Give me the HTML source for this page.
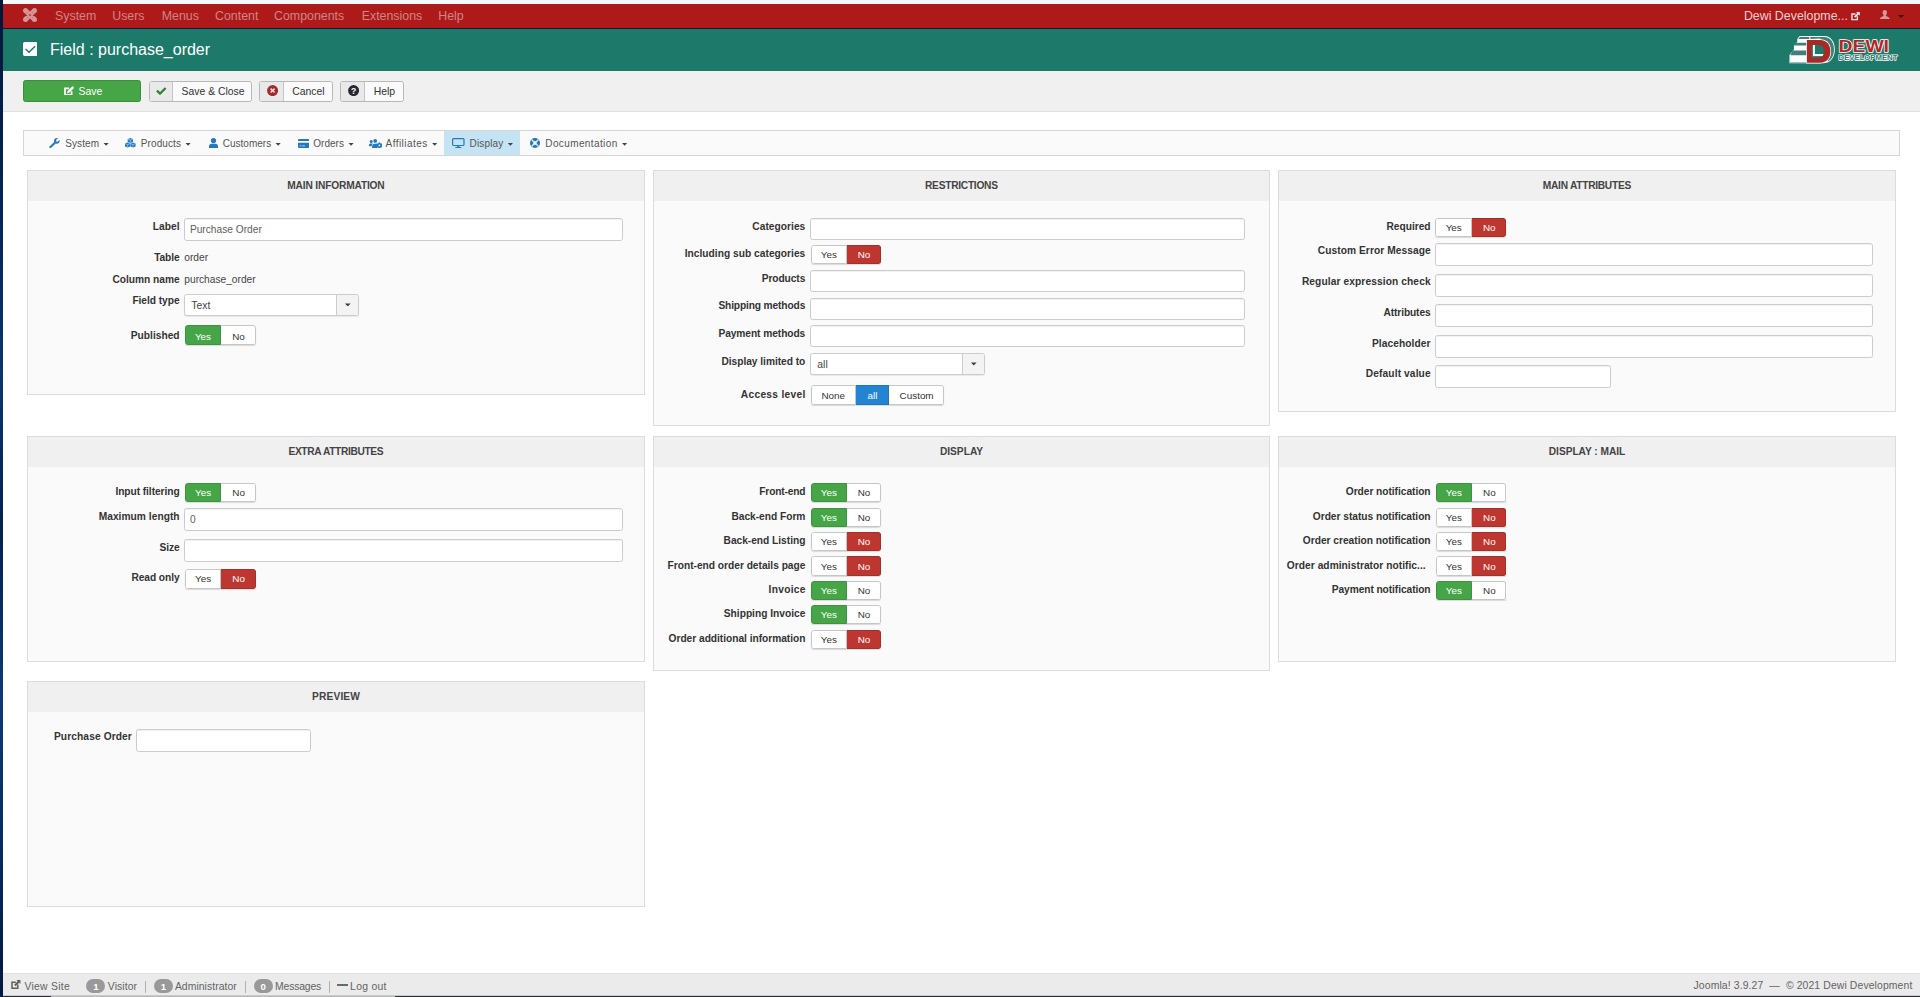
<!DOCTYPE html><html><head><meta charset="utf-8"><title>Field : purchase_order</title><style>
*{box-sizing:border-box;margin:0;padding:0}
html,body{width:1920px;height:997px;overflow:hidden;background:#fff}
body{position:relative;font-family:"Liberation Sans",sans-serif;font-size:10.4px;color:#333;line-height:14px}
.abs{position:absolute}
#lstrip{left:0;top:0;width:3px;height:997px;background:linear-gradient(#02163a 0%,#06285c 25%,#0a3570 38%,#04214f 53%,#0b3a78 70%,#072c63 84%,#03183f 100%)}
#tstrip{left:3px;top:0;width:1917px;height:4px;background:#f7f8fb}
#nav{left:3px;top:4px;width:1917px;height:25px;background:#ae1a1a;border-bottom:1px solid #0b1a3a}
#nav .mi{position:absolute;top:0;height:24px;line-height:25px;font-size:12.4px;color:#d18585;white-space:nowrap}
#hdr{left:3px;top:29px;width:1917px;height:42px;background:#1d796a}
#title{left:50px;top:40px;font-size:16px;line-height:20px;color:#fff;white-space:nowrap}
#tb{left:3px;top:71px;width:1917px;height:41px;background:#f0f0f0;border-bottom:1px solid #e0e0e0}
.btn{position:absolute;height:21px;border:1px solid #b8b8b8;border-radius:2.5px;background:#fafafa;font-size:10.4px;line-height:19px;color:#333;white-space:nowrap;overflow:hidden}
.btn .ic{position:absolute;left:0;top:0;width:23.4px;height:19px;background:#e9e9e9;border-right:1px solid #c4c4c4}
.btn .tx{position:absolute;top:0}
#sub{left:23px;top:130px;width:1877px;height:26px;border:1px solid #d6d6d6;background:#fafafa}
#sub .si{position:absolute;top:0;height:24px;line-height:26px;font-size:10px;color:#555;white-space:nowrap}
.car{display:inline-block;width:5.6px;height:3px;background:#444;clip-path:polygon(0 0,100% 0,50% 100%);vertical-align:middle;margin-left:4.2px;margin-top:0px}
.panel{position:absolute;border:1px solid #dcdcdc;background:#fafafa}
.panel .ph{position:absolute;left:0;top:0;right:0;height:30px;background:#f0f0f0;text-align:center;font-weight:bold;font-size:10.2px;line-height:29px;color:#444;letter-spacing:0}
.lb{position:absolute;text-align:right;font-weight:bold;font-size:10.2px;color:#333;white-space:nowrap;line-height:12px}
.vl{position:absolute;font-size:10.2px;color:#444;white-space:nowrap;line-height:12px}
.inp{position:absolute;height:22px;border:1px solid #ccc;border-radius:2.5px;background:#fff;font-size:10.2px;color:#5e5e5e;line-height:22px;padding-left:4.6px;box-shadow:inset 0 1px 1px rgba(0,0,0,.06)}
.sel{position:absolute;height:22px;border:1px solid #ccc;border-radius:2.5px;background:#fff;font-size:10.4px;color:#444;line-height:22px;padding-left:6px;box-shadow:0 1px 1px rgba(0,0,0,.08)}
.sel i{position:absolute;right:0;top:0;width:22.2px;height:20px;background:#f3f3f3;border-left:1px solid #ccc;border-radius:0 2px 2px 0}
.sel i:after{content:"";position:absolute;left:8.3px;top:8.8px;width:5.6px;height:3.1px;background:#3c3c3c;clip-path:polygon(0 0,100% 0,50% 100%)}
.bg{position:absolute;height:19.5px;border-radius:2.5px;background:#fff;overflow:hidden;font-size:9.9px;line-height:19.5px;color:#333;box-shadow:0 1px 1px rgba(0,0,0,.13)}
.bg span{position:absolute;top:0;height:100%;text-align:center;border:1px solid #c6c6c6;border-left-width:0}
.bg span:first-child{border-left-width:1px;border-radius:2.5px 0 0 2.5px}
.bg span:last-child{border-radius:0 2.5px 2.5px 0}
.bg span{line-height:17.6px}
.bg .g{background:#46a546;color:#fff;border-color:#3e933e}
.bg .r{background:#bd362f;color:#fff;border-color:#a5302a}
.bg .b{background:#2384d3;color:#fff;border-color:#1f76bd}
#status{left:3px;top:973px;width:1917px;height:24px;background:#ebebeb;border-top:1px solid #e2e2e2;font-size:10.4px;color:#555}
#status .t{position:absolute;top:0;line-height:26px;white-space:nowrap;color:#636363}
#status .bd{position:absolute;top:4.6px;height:14.6px;border-radius:7.3px;background:#999;color:#fff;font-weight:bold;font-size:9.6px;line-height:15px;text-align:center}
#status .sp{position:absolute;top:6.5px;width:1px;height:12px;background:#b0b0b0}
</style></head><body>
<div id="lstrip" class="abs"></div><div id="tstrip" class="abs"></div>
<div id="nav" class="abs">
<span class="mi" style="left:52px">System</span>
<span class="mi" style="left:109.2px">Users</span>
<span class="mi" style="left:158.7px">Menus</span>
<span class="mi" style="left:212px">Content</span>
<span class="mi" style="left:271px">Components</span>
<span class="mi" style="left:358.7px">Extensions</span>
<span class="mi" style="left:435.2px">Help</span>
<svg class="abs" style="left:20px;top:4.4px;" width="14" height="14" viewBox="0 0 14 14"><g fill="#d69494"><circle cx="2.5" cy="2.5" r="2.5"/><circle cx="11.5" cy="2.5" r="2.5"/><circle cx="2.5" cy="11.5" r="2.5"/><circle cx="11.5" cy="11.5" r="2.5"/>
<path d="M2.2 3.8 L3.8 2.2 L11.8 10.2 L10.2 11.8Z M11.8 3.8 L10.2 2.2 L2.2 10.2 L3.8 11.8Z" stroke="#d69494" stroke-width="2.6" stroke-linejoin="round"/></g>
<path d="M7 5.9 L8.1 7 L7 8.1 L5.9 7Z" fill="#ae1a1a"/>
<g fill="#c86868"><circle cx="4.6" cy="4.6" r=".55"/><circle cx="9.4" cy="4.6" r=".55"/><circle cx="4.6" cy="9.4" r=".55"/><circle cx="9.4" cy="9.4" r=".55"/></g></svg>
<span class="mi" style="left:1740.9px;color:#f0d0d0">Dewi Developme...</span>
<svg class="abs" style="left:1847.8px;top:8.2px;" width="9" height="8.4" viewBox="0 0 9.2 9"><path d="M6.6 4.6 V8.2 H0.8 V2.2 H4.6" fill="none" stroke="#f3e3ea" stroke-width="1.5"/><path d="M5.2 0 H9.2 V4 L7.9 2.7 L4.4 6.2 L3 4.8 L6.5 1.3Z" fill="#f3e3ea"/></svg><svg class="abs" style="left:1877px;top:6px;" width="9.6" height="9" viewBox="0 0 9.6 9"><path d="M4.8 0 C6.3 0 7 1 7 2.4 C7 3.6 6.5 4.5 5.9 5 C5.9 5.8 6.2 6 7.2 6.4 C8.6 7 9.6 7.4 9.6 9 H0 C0 7.4 1 7 2.4 6.4 C3.4 6 3.7 5.8 3.7 5 C3.1 4.5 2.6 3.6 2.6 2.4 C2.6 1 3.3 0 4.8 0Z" fill="#d69797"/></svg><span class="abs" style="left:1895.3px;top:11px;border-left:3px solid transparent;border-right:3px solid transparent;border-top:3px solid #3a0a0a"></span>
</div>
<div id="hdr" class="abs"><svg class="abs" style="left:1777px;top:1px;" width="130" height="40" viewBox="0 0 130 40">
<path d="M19.6 6.1 H44.5 C51 6.1 54.8 12 54.8 19.4 C54.8 26 52 30.5 47.5 32.6 L43 33.2 H9.5 V25 L13.9 19.6 V15.9 L17.3 11.8 V9.1Z" fill="#fff"/>
<path d="M30.4 6.9 H44.3 C50.3 6.9 54 12.3 54 19.4 C54 25.3 51.6 29.6 47.8 31.6 L46 20 L40 8.6 L30.4 9.1Z" fill="#3f8078"/>
<path d="M19.9 6.9 H29.3 V9.1 H18.2Z M15.5 12.8 H27 V15.6 H14.6Z M12.6 20.6 H27 V25.2 H10.3Z M10.2 32 H27 V32.5 H10.2Z" fill="#3f8078"/>
<path d="M26.2 9.2 H40.3 C47.5 9.2 51.1 14.6 51.1 21.3 C51.1 28.2 47.5 33.4 40.3 33.4 H26.2Z" fill="#fff"/>
<path d="M26.9 9.9 H40.2 C46.9 9.9 50.4 14.9 50.4 21.3 C50.4 27.8 46.9 32.7 40.2 32.7 H26.9Z" fill="#a72a26"/>
<clipPath id="dc"><path d="M31.7 15.1 H38.4 C42.5 15.1 43.9 17.9 43.9 21.3 C43.9 24.7 42.5 27.5 38.4 27.5 H31.7Z"/></clipPath>
<g clip-path="url(#dc)"><rect x="31" y="14" width="14" height="14" fill="#1d796a"/><path d="M31.7 15 H33 V25.9 H44 V27.6 H31.7Z" fill="#3f8078"/><path d="M33 15 H34.9 V24.1 H44 V25.9 H33Z" fill="#fff"/></g>
<g font-family="Liberation Sans" font-weight="bold">
<text x="58.6" y="22" font-size="17" textLength="50.4" lengthAdjust="spacingAndGlyphs" fill="#b02828" stroke="#fff" stroke-width="1.5" paint-order="stroke" stroke-linejoin="round">DEWI</text>
<text x="58.6" y="29.8" font-size="7.2" textLength="58.8" lengthAdjust="spacingAndGlyphs" fill="#34776c" stroke="#fff" stroke-width="1.25" paint-order="stroke" stroke-linejoin="round">DEVELOPMENT</text>
</g></svg></div>
<svg class="abs" style="left:22.7px;top:42.1px;" width="14.6" height="13.9" viewBox="0 0 14.6 13.9"><rect x="0" y="0" width="14.6" height="13.9" rx="1.6" fill="#fff"/><path d="M2.6 7 L6 10.3 L12.1 4.2" fill="none" stroke="#1d796a" stroke-width="1.4"/></svg>
<div id="title" class="abs">Field : purchase_order</div>
<div id="tb" class="abs"></div>
<div class="btn" style="left:23px;top:80px;height:21.6px;width:118px;background:#46a546;border-color:#3b8e3b;color:#fff"><svg class="abs" style="left:39.5px;top:4.6px;" width="10.5" height="9.8" viewBox="0 0 10.5 9.8"><path d="M7.6 5.2 V8.8 H1 V2.4 H5.2" fill="none" stroke="#fff" stroke-width="1.7"/><path d="M8.6 0 L10.3 1.7 L5.2 6.8 L3 7.4 L3.6 5.1Z" fill="#fff"/></svg><span class="tx" style="left:54.5px;top:1px">Save</span></div>
<div class="btn" style="left:148.8px;top:80.5px;width:103.6px"><span class="ic"><svg class="abs" style="left:6.4px;top:5.4px;" width="10.6" height="8.2" viewBox="0 0 10.6 8.4"><path d="M0 4.6 L1.7 2.9 L4 5.2 L8.9 0.2 L10.6 1.9 L4 8.4Z" fill="#378137"/></svg></span><span class="tx" style="left:31.8px">Save &amp; Close</span></div>
<div class="btn" style="left:259.4px;top:80.5px;width:73.4px"><span class="ic"><svg class="abs" style="left:6.3px;top:3.5px;" width="11.2" height="11.2" viewBox="0 0 11.2 11.2"><circle cx="5.6" cy="5.6" r="5.5" fill="#a32a2a"/><path d="M3.6 3.6 L7.6 7.6 M7.6 3.6 L3.6 7.6" stroke="#f2dede" stroke-width="1.5"/></svg></span><span class="tx" style="left:31.8px">Cancel</span></div>
<div class="btn" style="left:340.4px;top:80.5px;width:63.6px"><span class="ic"><svg class="abs" style="left:6.7px;top:3.5px;" width="11.2" height="11.2" viewBox="0 0 11.2 11.2"><circle cx="5.6" cy="5.6" r="5.5" fill="#252830"/><text x="5.6" y="8.6" text-anchor="middle" font-family="Liberation Sans" font-weight="bold" font-size="8.6" fill="#fff">?</text></svg></span><span class="tx" style="left:32.4px">Help</span></div>
<div id="sub" class="abs">
<div class="abs" style="left:420.3px;top:0;width:75.7px;height:24px;background:#c4e3f3"></div>
<svg class="abs" style="left:25.2px;top:6.9px;" width="10.8" height="10" viewBox="0 0 10.8 10"><path d="M0.9 9.9 L0 9 L5.2 3.9 C4.7 2.4 5.3 0.9 6.6 0.3 C7.5 -0.1 8.4 0 8.9 0.2 L7 2.1 L7.3 3.5 L8.7 3.8 L10.6 1.9 C10.9 2.9 10.7 4.2 9.8 5 C8.9 5.8 7.7 5.9 6.7 5.5 L1.9 10 Z" fill="#2577be"/></svg><span class="si" style="left:41.2px;letter-spacing:0.1px">System<b class="car"></b></span>
<svg class="abs" style="left:101.4px;top:7.2px;" width="10.6" height="9.4" viewBox="0 0 10.6 9.4"><g fill="#2577be"><path d="M5.3 0 L7.9 1 V3.9 L5.3 4.9 L2.7 3.9 V1Z"/><path d="M2.6 4.5 L5.2 5.5 V8.4 L2.6 9.4 L0 8.4 V5.5Z"/><path d="M8 4.5 L10.6 5.5 V8.4 L8 9.4 L5.4 8.4 V5.5Z"/></g><g stroke="#cfe3f3" stroke-width=".55" fill="none"><path d="M2.9 1.2 L5.3 2.1 L7.7 1.2 M5.3 2.1 V4.6"/><path d="M0.2 5.7 L2.6 6.6 L5 5.7 M2.6 6.6 V9.1"/><path d="M5.6 5.7 L8 6.6 L10.4 5.7 M8 6.6 V9.1"/></g></svg><span class="si" style="left:116.8px;letter-spacing:0.1px">Products<b class="car"></b></span>
<svg class="abs" style="left:184.7px;top:6.9px;" width="9" height="9.9" viewBox="0 0 9 9.9"><circle cx="4.5" cy="2.6" r="2.6" fill="#2577be"/><path d="M0 9.9 V8.3 C0 6.7 1.1 5.8 2.4 5.8 H6.6 C7.9 5.8 9 6.7 9 8.3 V9.9Z" fill="#2577be"/></svg><span class="si" style="left:198.8px;letter-spacing:0px">Customers<b class="car"></b></span>
<svg class="abs" style="left:273.5px;top:7.7px;" width="11.3" height="8.9" viewBox="0 0 11.3 8.9"><path d="M1 0 H10.3 Q11.3 0 11.3 1 V2.1 H0 V1 Q0 0 1 0Z" fill="#2577be"/><path d="M0 3.8 H11.3 V7.9 Q11.3 8.9 10.3 8.9 H1 Q0 8.9 0 7.9Z" fill="#2577be"/><path d="M1.6 6.9 H3.4 M4.2 6.9 H7" stroke="#d6e8f5" stroke-width=".8"/></svg><span class="si" style="left:289.2px;letter-spacing:0.05px">Orders<b class="car"></b></span>
<svg class="abs" style="left:344.7px;top:7.6px;" width="13" height="9" viewBox="0 0 13 9"><g fill="#2577be"><circle cx="2.2" cy="2.6" r="1.5"/><circle cx="6.2" cy="1.9" r="1.9"/><path d="M0 7.2 V6 C0 5 .8 4.5 1.6 4.5 H3 C3.3 4.5 3.6 4.6 3.8 4.8 C3 5.4 2.6 6.2 2.6 7.2Z"/><path d="M3.1 9 V7.4 C3.1 5.8 4.1 4.7 5.3 4.7 H7.1 C7.7 4.7 8.2 4.9 8.6 5.3 C7.7 6.3 7.7 7.8 8.4 9Z"/><circle cx="10.4" cy="6.4" r="2.5"/></g><circle cx="10.4" cy="6.4" r=".9" fill="#eaf3fa"/><g stroke="#2577be" stroke-width="1.1"><path d="M10.4 3.2 V9.6 M7.6 4.8 L13.2 8 M13.2 4.8 L7.6 8"/></g><circle cx="10.4" cy="6.4" r=".9" fill="#eaf3fa"/></svg><span class="si" style="left:361.5px;letter-spacing:0.46px">Affiliates<b class="car"></b></span>
<svg class="abs" style="left:428px;top:6.9px;" width="12.6" height="9.9" viewBox="0 0 12.6 9.9"><rect x=".6" y=".6" width="11.4" height="6.9" rx="1" fill="none" stroke="#2577be" stroke-width="1.2"/><path d="M5.3 7.6 H7.3 V9 H5.3Z M3.3 9 H9.3 V9.9 H3.3Z" fill="#2577be"/></svg><span class="si" style="left:445.5px;letter-spacing:0.16px">Display<b class="car"></b></span>
<svg class="abs" style="left:506px;top:7px;" width="10" height="10" viewBox="0 0 10 10"><circle cx="5" cy="5" r="5" fill="#2577be"/><circle cx="5" cy="5" r="1.9" fill="#f4f8fb"/><path d="M1.6 1.6 L3.7 3.7 M8.4 1.6 L6.3 3.7 M1.6 8.4 L3.7 6.3 M8.4 8.4 L6.3 6.3" stroke="#f4f8fb" stroke-width="1.3"/></svg><span class="si" style="left:521.3px;letter-spacing:0.39px">Documentation<b class="car"></b></span>
</div>
<div class="panel" style="left:27px;top:170px;width:618px;height:225px"><div class="ph"><span style="letter-spacing:-0.168px;margin-left:-0.168px">MAIN INFORMATION</span></div></div>
<div class="panel" style="left:653px;top:170px;width:617px;height:256px"><div class="ph"><span style="letter-spacing:-0.263px;margin-left:-0.263px">RESTRICTIONS</span></div></div>
<div class="panel" style="left:1278px;top:170px;width:618px;height:242px"><div class="ph"><span style="letter-spacing:-0.270px;margin-left:-0.270px">MAIN ATTRIBUTES</span></div></div>
<div class="panel" style="left:27px;top:436px;width:618px;height:226px"><div class="ph"><span style="letter-spacing:-0.355px;margin-left:-0.355px">EXTRA ATTRIBUTES</span></div></div>
<div class="panel" style="left:653px;top:436px;width:617px;height:235px"><div class="ph"><span style="letter-spacing:-0.003px;margin-left:-0.003px">DISPLAY</span></div></div>
<div class="panel" style="left:1278px;top:436px;width:618px;height:226px"><div class="ph"><span style="letter-spacing:-0.042px;margin-left:-0.042px">DISPLAY : MAIL</span></div></div>
<div class="panel" style="left:27px;top:681px;width:618px;height:226px"><div class="ph"><span style="letter-spacing:0.145px;margin-left:0.145px">PREVIEW</span></div></div>
<span class="lb" style="left:-120.4px;width:300px;top:220.70px;letter-spacing:0.038px;margin-left:0.038px;">Label</span>
<span class="inp" style="left:184.3px;top:218.2px;width:439px;height:23px;line-height:22px">Purchase Order</span>
<span class="lb" style="left:-120.4px;width:300px;top:251.90px;letter-spacing:-0.112px;margin-left:-0.112px;">Table</span>
<span class="vl" style="left:184.3px;top:251.90px">order</span>
<span class="lb" style="left:-120.4px;width:300px;top:273.80px;letter-spacing:-0.014px;margin-left:-0.014px;">Column name</span>
<span class="vl" style="left:184.3px;top:273.80px">purchase_order</span>
<span class="lb" style="left:-120.4px;width:300px;top:295.30px;letter-spacing:-0.036px;margin-left:-0.036px;">Field type</span>
<span class="sel" style="left:184.3px;top:293.6px;width:174.6px">Text<i></i></span>
<span class="lb" style="left:-120.4px;width:300px;top:329.60px;letter-spacing:0.024px;margin-left:0.024px;">Published</span>
<span class="bg" style="left:184.6px;top:325.3px;width:71.0px"><span class="g" style="left:0;width:36.8px"></span><span class="" style="left:36.8px;width:34.2px"></span></span>
<span class="abs" style="left:184.60px;width:36.80px;top:330.60px;line-height:12px;font-size:9.9px;color:#fff;text-align:center;white-space:nowrap;padding-left:0px">Yes</span>
<span class="abs" style="left:221.40px;width:34.20px;top:330.60px;line-height:12px;font-size:9.9px;color:#333;text-align:center;white-space:nowrap;padding-left:0px">No</span>
<span class="lb" style="left:505.3px;width:300px;top:220.90px;letter-spacing:0.034px;margin-left:0.034px;">Categories</span>
<span class="inp" style="left:810.3px;top:218.3px;width:435px;height:22px;line-height:21px"></span>
<span class="lb" style="left:505.3px;width:300px;top:247.55px;letter-spacing:0.024px;margin-left:0.024px;">Including sub categories</span>
<span class="bg" style="left:810.6px;top:244.7px;width:70.1px"><span class="" style="left:0;width:36.6px"></span><span class="r" style="left:36.6px;width:33.5px"></span></span>
<span class="abs" style="left:810.60px;width:36.60px;top:248.55px;line-height:12px;font-size:9.9px;color:#333;text-align:center;white-space:nowrap;padding-left:0px">Yes</span>
<span class="abs" style="left:847.20px;width:33.50px;top:248.55px;line-height:12px;font-size:9.9px;color:#fff;text-align:center;white-space:nowrap;padding-left:0px">No</span>
<span class="lb" style="left:505.3px;width:300px;top:273.00px;letter-spacing:-0.082px;margin-left:-0.082px;">Products</span>
<span class="inp" style="left:810.3px;top:269.9px;width:435px;height:22px;line-height:21px"></span>
<span class="lb" style="left:505.3px;width:300px;top:300.10px;letter-spacing:-0.129px;margin-left:-0.129px;">Shipping methods</span>
<span class="inp" style="left:810.3px;top:297.7px;width:435px;height:22px;line-height:21px"></span>
<span class="lb" style="left:505.3px;width:300px;top:327.90px;letter-spacing:-0.063px;margin-left:-0.063px;">Payment methods</span>
<span class="inp" style="left:810.3px;top:325.4px;width:435px;height:22px;line-height:21px"></span>
<span class="lb" style="left:505.3px;width:300px;top:355.60px;letter-spacing:-0.031px;margin-left:-0.031px;">Display limited to</span>
<span class="sel" style="left:810.3px;top:352.7px;width:174.6px">all<i></i></span>
<span class="lb" style="left:505.3px;width:300px;top:388.70px;letter-spacing:0.301px;margin-left:0.301px;">Access level</span>
<span class="bg" style="left:810.5999999999999px;top:385.1px;width:133.8px"><span style="left:0;width:45.4px"></span><span class="b" style="left:45.4px;width:32.8px"></span><span style="left:78.2px;width:55.6px"></span></span>
<span class="abs" style="left:810.60px;width:45.40px;top:389.70px;line-height:12px;font-size:9.9px;color:#333;text-align:center;white-space:nowrap;padding-left:0px">None</span>
<span class="abs" style="left:856.00px;width:32.80px;top:389.70px;line-height:12px;font-size:9.9px;color:#fff;text-align:center;white-space:nowrap;padding-left:0px">all</span>
<span class="abs" style="left:888.80px;width:55.60px;top:389.70px;line-height:12px;font-size:9.9px;color:#333;text-align:center;white-space:nowrap;padding-left:0px">Custom</span>
<span class="lb" style="left:1130.6px;width:300px;top:221.05px;letter-spacing:0.005px;margin-left:0.005px;">Required</span>
<span class="bg" style="left:1435.3px;top:217.8px;width:71.0px"><span class="" style="left:0;width:36.8px"></span><span class="r" style="left:36.8px;width:34.2px"></span></span>
<span class="abs" style="left:1435.30px;width:36.80px;top:222.05px;line-height:12px;font-size:9.9px;color:#333;text-align:center;white-space:nowrap;padding-left:0px">Yes</span>
<span class="abs" style="left:1472.10px;width:34.20px;top:222.05px;line-height:12px;font-size:9.9px;color:#fff;text-align:center;white-space:nowrap;padding-left:0px">No</span>
<span class="lb" style="left:1130.6px;width:300px;top:245.05px;letter-spacing:0.068px;margin-left:0.068px;">Custom Error Message</span>
<span class="inp" style="left:1435.0px;top:243.4px;width:438px;height:23px;line-height:22px"></span>
<span class="lb" style="left:1130.6px;width:300px;top:276.05px;letter-spacing:0.105px;margin-left:0.105px;">Regular expression check</span>
<span class="inp" style="left:1435.0px;top:274.3px;width:438px;height:23px;line-height:22px"></span>
<span class="lb" style="left:1130.6px;width:300px;top:306.90px;letter-spacing:-0.121px;margin-left:-0.121px;">Attributes</span>
<span class="inp" style="left:1435.0px;top:303.6px;width:438px;height:23px;line-height:22px"></span>
<span class="lb" style="left:1130.6px;width:300px;top:337.55px;letter-spacing:0.094px;margin-left:0.094px;">Placeholder</span>
<span class="inp" style="left:1435.0px;top:334.6px;width:438px;height:23px;line-height:22px"></span>
<span class="lb" style="left:1130.6px;width:300px;top:367.55px;letter-spacing:0.114px;margin-left:0.114px;">Default value</span>
<span class="inp" style="left:1435.0px;top:365.4px;width:175.5px;height:23px;line-height:22px"></span>
<span class="lb" style="left:-120.4px;width:300px;top:486.30px;letter-spacing:-0.065px;margin-left:-0.065px;">Input filtering</span>
<span class="bg" style="left:184.7px;top:482.8px;width:71.0px"><span class="g" style="left:0;width:36.8px"></span><span class="" style="left:36.8px;width:34.2px"></span></span>
<span class="abs" style="left:184.70px;width:36.80px;top:487.30px;line-height:12px;font-size:9.9px;color:#fff;text-align:center;white-space:nowrap;padding-left:0px">Yes</span>
<span class="abs" style="left:221.50px;width:34.20px;top:487.30px;line-height:12px;font-size:9.9px;color:#333;text-align:center;white-space:nowrap;padding-left:0px">No</span>
<span class="lb" style="left:-120.4px;width:300px;top:511.30px;letter-spacing:0.044px;margin-left:0.044px;">Maximum length</span>
<span class="inp" style="left:184.4px;top:508.3px;width:439px;height:23px;line-height:22px">0</span>
<span class="lb" style="left:-120.4px;width:300px;top:541.90px;letter-spacing:-0.098px;margin-left:-0.098px;">Size</span>
<span class="inp" style="left:184.4px;top:539.2px;width:439px;height:23px;line-height:22px"></span>
<span class="lb" style="left:-120.4px;width:300px;top:572.30px;letter-spacing:-0.065px;margin-left:-0.065px;">Read only</span>
<span class="bg" style="left:184.7px;top:569.1px;width:71.0px"><span class="" style="left:0;width:36.8px"></span><span class="r" style="left:36.8px;width:34.2px"></span></span>
<span class="abs" style="left:184.70px;width:36.80px;top:573.30px;line-height:12px;font-size:9.9px;color:#333;text-align:center;white-space:nowrap;padding-left:0px">Yes</span>
<span class="abs" style="left:221.50px;width:34.20px;top:573.30px;line-height:12px;font-size:9.9px;color:#fff;text-align:center;white-space:nowrap;padding-left:0px">No</span>
<span class="lb" style="left:505.4px;width:300px;top:486.10px;letter-spacing:-0.181px;margin-left:-0.181px;">Front-end</span>
<span class="bg" style="left:810.6px;top:482.8px;width:70.1px"><span class="g" style="left:0;width:36.6px"></span><span class="" style="left:36.6px;width:33.5px"></span></span>
<span class="abs" style="left:810.60px;width:36.60px;top:487.10px;line-height:12px;font-size:9.9px;color:#fff;text-align:center;white-space:nowrap;padding-left:0px">Yes</span>
<span class="abs" style="left:847.20px;width:33.50px;top:487.10px;line-height:12px;font-size:9.9px;color:#333;text-align:center;white-space:nowrap;padding-left:0px">No</span>
<span class="lb" style="left:505.4px;width:300px;top:511.10px;letter-spacing:-0.013px;margin-left:-0.013px;">Back-end Form</span>
<span class="bg" style="left:810.6px;top:507.8px;width:70.1px"><span class="g" style="left:0;width:36.6px"></span><span class="" style="left:36.6px;width:33.5px"></span></span>
<span class="abs" style="left:810.60px;width:36.60px;top:512.10px;line-height:12px;font-size:9.9px;color:#fff;text-align:center;white-space:nowrap;padding-left:0px">Yes</span>
<span class="abs" style="left:847.20px;width:33.50px;top:512.10px;line-height:12px;font-size:9.9px;color:#333;text-align:center;white-space:nowrap;padding-left:0px">No</span>
<span class="lb" style="left:505.4px;width:300px;top:535.05px;letter-spacing:-0.017px;margin-left:-0.017px;">Back-end Listing</span>
<span class="bg" style="left:810.6px;top:531.8px;width:70.1px"><span class="" style="left:0;width:36.6px"></span><span class="r" style="left:36.6px;width:33.5px"></span></span>
<span class="abs" style="left:810.60px;width:36.60px;top:536.05px;line-height:12px;font-size:9.9px;color:#333;text-align:center;white-space:nowrap;padding-left:0px">Yes</span>
<span class="abs" style="left:847.20px;width:33.50px;top:536.05px;line-height:12px;font-size:9.9px;color:#fff;text-align:center;white-space:nowrap;padding-left:0px">No</span>
<span class="lb" style="left:505.4px;width:300px;top:559.50px;letter-spacing:-0.012px;margin-left:-0.012px;">Front-end order details page</span>
<span class="bg" style="left:810.6px;top:556.0px;width:70.1px"><span class="" style="left:0;width:36.6px"></span><span class="r" style="left:36.6px;width:33.5px"></span></span>
<span class="abs" style="left:810.60px;width:36.60px;top:560.50px;line-height:12px;font-size:9.9px;color:#333;text-align:center;white-space:nowrap;padding-left:0px">Yes</span>
<span class="abs" style="left:847.20px;width:33.50px;top:560.50px;line-height:12px;font-size:9.9px;color:#fff;text-align:center;white-space:nowrap;padding-left:0px">No</span>
<span class="lb" style="left:505.4px;width:300px;top:584.20px;letter-spacing:0.277px;margin-left:0.277px;">Invoice</span>
<span class="bg" style="left:810.6px;top:580.6px;width:70.1px"><span class="g" style="left:0;width:36.6px"></span><span class="" style="left:36.6px;width:33.5px"></span></span>
<span class="abs" style="left:810.60px;width:36.60px;top:585.20px;line-height:12px;font-size:9.9px;color:#fff;text-align:center;white-space:nowrap;padding-left:0px">Yes</span>
<span class="abs" style="left:847.20px;width:33.50px;top:585.20px;line-height:12px;font-size:9.9px;color:#333;text-align:center;white-space:nowrap;padding-left:0px">No</span>
<span class="lb" style="left:505.4px;width:300px;top:608.20px;letter-spacing:0.005px;margin-left:0.005px;">Shipping Invoice</span>
<span class="bg" style="left:810.6px;top:604.9px;width:70.1px"><span class="g" style="left:0;width:36.6px"></span><span class="" style="left:36.6px;width:33.5px"></span></span>
<span class="abs" style="left:810.60px;width:36.60px;top:609.20px;line-height:12px;font-size:9.9px;color:#fff;text-align:center;white-space:nowrap;padding-left:0px">Yes</span>
<span class="abs" style="left:847.20px;width:33.50px;top:609.20px;line-height:12px;font-size:9.9px;color:#333;text-align:center;white-space:nowrap;padding-left:0px">No</span>
<span class="lb" style="left:505.4px;width:300px;top:633.20px;letter-spacing:-0.027px;margin-left:-0.027px;">Order additional information</span>
<span class="bg" style="left:810.6px;top:629.9px;width:70.1px"><span class="" style="left:0;width:36.6px"></span><span class="r" style="left:36.6px;width:33.5px"></span></span>
<span class="abs" style="left:810.60px;width:36.60px;top:634.20px;line-height:12px;font-size:9.9px;color:#333;text-align:center;white-space:nowrap;padding-left:0px">Yes</span>
<span class="abs" style="left:847.20px;width:33.50px;top:634.20px;line-height:12px;font-size:9.9px;color:#fff;text-align:center;white-space:nowrap;padding-left:0px">No</span>
<span class="lb" style="left:1130.6px;width:300px;top:486.10px;letter-spacing:-0.037px;margin-left:-0.037px;">Order notification</span>
<span class="bg" style="left:1435.5px;top:482.8px;width:71.0px"><span class="g" style="left:0;width:36.8px"></span><span class="" style="left:36.8px;width:34.2px"></span></span>
<span class="abs" style="left:1435.50px;width:36.80px;top:487.10px;line-height:12px;font-size:9.9px;color:#fff;text-align:center;white-space:nowrap;padding-left:0px">Yes</span>
<span class="abs" style="left:1472.30px;width:34.20px;top:487.10px;line-height:12px;font-size:9.9px;color:#333;text-align:center;white-space:nowrap;padding-left:0px">No</span>
<span class="lb" style="left:1130.6px;width:300px;top:511.10px;letter-spacing:-0.021px;margin-left:-0.021px;">Order status notification</span>
<span class="bg" style="left:1435.5px;top:507.8px;width:71.0px"><span class="" style="left:0;width:36.8px"></span><span class="r" style="left:36.8px;width:34.2px"></span></span>
<span class="abs" style="left:1435.50px;width:36.80px;top:512.10px;line-height:12px;font-size:9.9px;color:#333;text-align:center;white-space:nowrap;padding-left:0px">Yes</span>
<span class="abs" style="left:1472.30px;width:34.20px;top:512.10px;line-height:12px;font-size:9.9px;color:#fff;text-align:center;white-space:nowrap;padding-left:0px">No</span>
<span class="lb" style="left:1130.6px;width:300px;top:535.05px;letter-spacing:-0.005px;margin-left:-0.005px;">Order creation notification</span>
<span class="bg" style="left:1435.5px;top:531.8px;width:71.0px"><span class="" style="left:0;width:36.8px"></span><span class="r" style="left:36.8px;width:34.2px"></span></span>
<span class="abs" style="left:1435.50px;width:36.80px;top:536.05px;line-height:12px;font-size:9.9px;color:#333;text-align:center;white-space:nowrap;padding-left:0px">Yes</span>
<span class="abs" style="left:1472.30px;width:34.20px;top:536.05px;line-height:12px;font-size:9.9px;color:#fff;text-align:center;white-space:nowrap;padding-left:0px">No</span>
<span class="lb" style="left:1125.6px;width:300px;top:559.50px;letter-spacing:0.041px;margin-left:0.041px;">Order administrator notific...</span>
<span class="bg" style="left:1435.5px;top:556.0px;width:71.0px"><span class="" style="left:0;width:36.8px"></span><span class="r" style="left:36.8px;width:34.2px"></span></span>
<span class="abs" style="left:1435.50px;width:36.80px;top:560.50px;line-height:12px;font-size:9.9px;color:#333;text-align:center;white-space:nowrap;padding-left:0px">Yes</span>
<span class="abs" style="left:1472.30px;width:34.20px;top:560.50px;line-height:12px;font-size:9.9px;color:#fff;text-align:center;white-space:nowrap;padding-left:0px">No</span>
<span class="lb" style="left:1130.6px;width:300px;top:584.20px;letter-spacing:-0.070px;margin-left:-0.070px;">Payment notification</span>
<span class="bg" style="left:1435.5px;top:580.6px;width:71.0px"><span class="g" style="left:0;width:36.8px"></span><span class="" style="left:36.8px;width:34.2px"></span></span>
<span class="abs" style="left:1435.50px;width:36.80px;top:585.20px;line-height:12px;font-size:9.9px;color:#fff;text-align:center;white-space:nowrap;padding-left:0px">Yes</span>
<span class="abs" style="left:1472.30px;width:34.20px;top:585.20px;line-height:12px;font-size:9.9px;color:#333;text-align:center;white-space:nowrap;padding-left:0px">No</span>
<span class="lb" style="left:-168.2px;width:300px;top:731.00px;letter-spacing:0.110px;margin-left:0.110px;">Purchase Order</span>
<span class="inp" style="left:136.2px;top:729.2px;width:175.2px;height:23px;line-height:22px"></span>
<div id="status" class="abs">
<svg class="abs" style="left:8.2px;top:6.4px;" width="9.6" height="9" viewBox="0 0 9.2 9"><path d="M6.6 4.6 V8.2 H0.8 V2.2 H4.6" fill="none" stroke="#5e5e5e" stroke-width="1.5"/><path d="M5.2 0 H9.2 V4 L7.9 2.7 L4.4 6.2 L3 4.8 L6.5 1.3Z" fill="#5e5e5e"/></svg>
<span class="t" style="left:21.5px;letter-spacing:0.262px">View Site</span>
<span class="bd" style="left:83.2px;width:19.3px">1</span>
<span class="t" style="left:104.8px;letter-spacing:0.087px">Visitor</span>
<span class="sp" style="left:142px"></span>
<span class="bd" style="left:151px;width:18.6px">1</span>
<span class="t" style="left:171.9px;letter-spacing:0.052px">Administrator</span>
<span class="sp" style="left:242.3px"></span>
<span class="bd" style="left:250.6px;width:19.2px">0</span>
<span class="t" style="left:272.1px;letter-spacing:-0.182px">Messages</span>
<span class="sp" style="left:326.2px"></span>
<span class="abs" style="left:334px;top:9.5px;width:10.5px;height:2.2px;background:#6a6a6a"></span>
<span class="t" style="left:347.1px;letter-spacing:0.290px">Log out</span>
<span class="t" style="right:7.6px;top:-1px;letter-spacing:.12px">Joomla! 3.9.27 &nbsp;—&nbsp; © 2021 Dewi Development</span>
</div>
<div class="abs" style="left:0;top:995px;width:1920px;height:1px;background:#c9c9c9"></div>
<div class="abs" style="left:0;top:996px;width:1920px;height:1px;background:#2e3138"></div>
<div class="abs" style="left:51px;top:996px;width:344px;height:1px;background:#b9b9b9"></div>
<div class="abs" style="left:0;top:995px;width:3px;height:2px;background:#061e4d"></div>
</body></html>
